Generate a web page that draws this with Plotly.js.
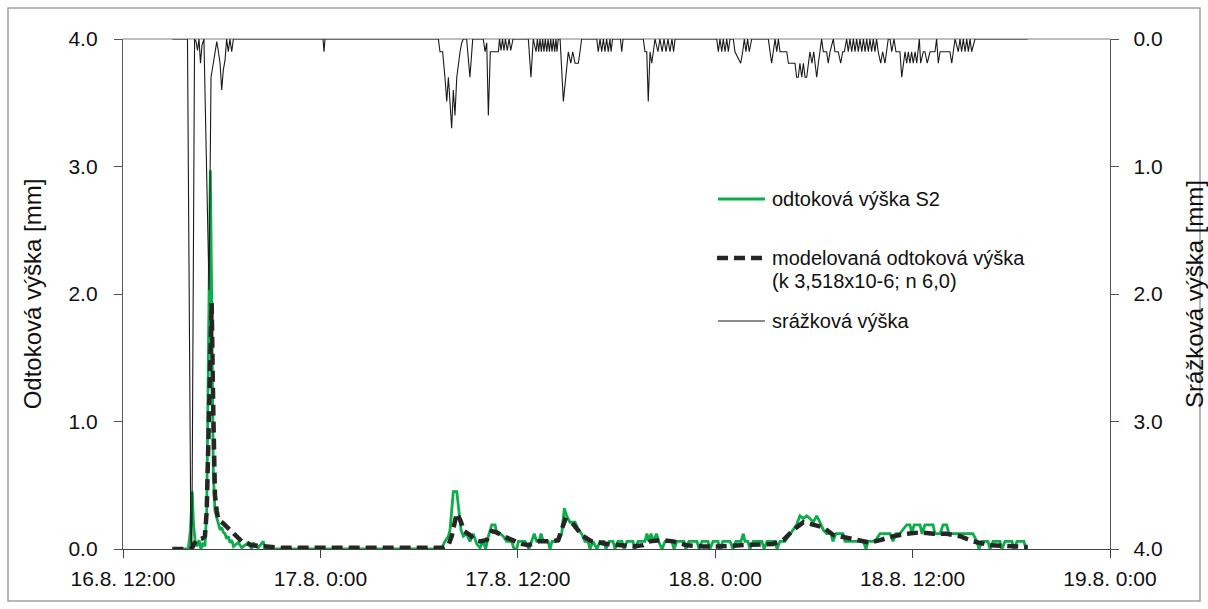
<!DOCTYPE html>
<html><head><meta charset="utf-8">
<script src="https://cdn.plot.ly/plotly-3.0.1.min.js"></script>
<style>html,body{margin:0;padding:0;background:#fff}#chart{width:1208px;height:609px}</style>
</head><body><div id="chart"></div>
<script>
// time axis: hours after 16.8. 12:00
const tickHours = [0, 12, 24, 36, 48, 60];
const tickLabels = ["16.8. 12:00", "17.8. 0:00", "17.8. 12:00", "18.8. 0:00", "18.8. 12:00", "19.8. 0:00"];
const runoffTicks = [0, 1, 2, 3, 4];
const seriesNames = ["odtoková výška S2", "modelovaná odtoková výška", "(k 3,518x10-6; n 6,0)", "srážková výška"];

// observed runoff S2 [hour, mm]
const observedS2 = [[3.0,0],[3.97,0],[4.10,0.15],[4.21,0.45],[4.28,0.2],[4.38,0.07],[4.50,0.02],[4.62,0.07],[4.74,0],[4.86,0.05],[4.98,0.02],
[5.09,0.3],[5.19,1.5],[5.31,2.97],[5.39,1.98],[5.43,1.2],[5.49,0.6],[5.59,0.3],[5.70,0.25],[5.79,0.2],[5.90,0.15],[6.00,0.17],[6.10,0.13],
[6.20,0.12],[6.30,0.08],[6.40,0.1],[6.50,0.05],[6.61,0.07],[6.72,0.02],[6.81,0.03],[7.01,0.05],[7.22,0.01],[7.42,0.03],[7.62,0.05],[7.82,0],
[7.92,0.05],[8.02,0.02],[8.22,0.01],[8.53,0.06],[8.63,0],[8.94,0],[19.35,0],[19.57,0.06],[19.78,0.1],[19.88,0.15],[20.08,0.45],[20.29,0.45],
[20.43,0.28],[20.55,0.15],[20.69,0.1],[20.89,0.12],[21.09,0.06],[21.29,0.12],[21.50,0.04],[21.70,0.01],[21.90,0.06],[22.05,0],[22.21,0.1],
[22.42,0.19],[22.62,0.19],[22.72,0.12],[22.92,0.12],[23.12,0.1],[23.32,0.06],[23.63,0.06],[23.77,0],[23.93,0],[24.04,0.06],[24.44,0.06],
[24.68,0],[24.85,0.06],[25.00,0.12],[25.15,0.06],[25.29,0.06],[25.41,0.12],[25.55,0.06],[25.84,0.06],[25.96,0],[26.08,0.06],[26.46,0.06],
[26.67,0.12],[26.83,0.32],[26.97,0.26],[27.17,0.21],[27.48,0.21],[27.68,0.15],[27.88,0.12],[28.08,0.06],[28.27,0.06],[28.39,0],[28.57,0.06],
[28.81,0],[29.00,0.06],[29.24,0.06],[29.36,0],[29.54,0.06],[29.79,0.06],[29.91,0],[30.09,0.06],[30.33,0.06],[30.46,0],[30.64,0.06],[31.00,0.06],
[31.12,0],[31.31,0.06],[31.73,0.06],[31.85,0.12],[31.98,0.06],[32.10,0.12],[32.22,0.06],[32.44,0.12],[32.55,0.06],[32.77,0],[32.95,0.06],
[33.37,0.06],[33.50,0],[33.68,0.06],[34.10,0.06],[34.22,0],[34.41,0.06],[34.89,0.06],[35.02,0],[35.20,0.06],[35.56,0.06],[35.68,0],[35.87,0.06],
[36.17,0.06],[36.29,0],[36.47,0.06],[36.90,0.06],[37.08,0],[37.26,0.06],[37.57,0.06],[37.71,0.12],[37.81,0.06],[37.99,0.06],[38.11,0],[38.32,0.06],
[38.84,0.06],[38.97,0],[39.15,0.06],[39.64,0.06],[39.76,0],[39.94,0.06],[40.24,0.06],[40.45,0.1],[40.75,0.15],[40.95,0.19],[41.15,0.26],
[41.36,0.24],[41.56,0.26],[41.76,0.24],[41.96,0.21],[42.17,0.26],[42.37,0.21],[42.57,0.15],[42.77,0.12],[43.04,0.12],[43.16,0.06],[43.34,0.12],
[43.77,0.12],[43.89,0.06],[44.19,0.06],[44.50,0.06],[44.80,0.06],[45.00,0.06],[45.17,0],[45.29,0.06],[45.71,0.06],[46.02,0.12],[46.42,0.12],
[46.63,0.12],[46.81,0.06],[46.99,0.12],[47.23,0.12],[47.42,0.15],[47.64,0.19],[47.84,0.19],[47.96,0.12],[48.09,0.19],[48.45,0.19],[48.57,0.12],
[48.75,0.19],[49.24,0.19],[49.36,0.12],[49.67,0.12],[49.85,0.19],[50.07,0.19],[50.21,0.12],[50.46,0.12],[50.76,0.12],[51.00,0.12],[51.25,0.12],
[51.49,0.12],[51.67,0.12],[51.90,0.06],[52.04,0],[52.22,0.06],[52.58,0.06],[52.71,0],[52.89,0.06],[53.31,0.06],[53.43,0],[53.62,0.06],
[54.04,0.06],[54.16,0],[54.35,0.06],[54.77,0.06],[54.89,0],[55.0,0]];

// modelled runoff [hour, mm]
const modelled = [[3.0,0],[4.17,0],[4.32,0.04],[4.48,0.07],[4.78,0.08],[4.98,0.1],[5.09,0.3],[5.19,0.9],[5.29,1.6],[5.39,1.93],[5.49,1.07],
[5.59,0.42],[5.70,0.3],[5.79,0.23],[6.10,0.2],[6.50,0.15],[6.81,0.1],[7.22,0.06],[7.82,0.03],[8.63,0.02],[9.65,0.01],[19.47,0.01],[19.78,0.03],
[19.98,0.1],[20.29,0.28],[20.49,0.23],[20.75,0.14],[21.09,0.11],[21.40,0.07],[21.70,0.06],[22.11,0.07],[22.42,0.14],[22.72,0.13],[23.12,0.1],
[23.63,0.07],[24.24,0.04],[24.64,0.03],[25.25,0.06],[26.06,0.06],[26.46,0.07],[26.87,0.23],[27.28,0.21],[27.58,0.16],[27.98,0.1],[28.49,0.06],
[29.40,0.04],[31.02,0.02],[31.63,0.03],[32.04,0.06],[32.64,0.07],[33.45,0.06],[34.26,0.03],[35.28,0.02],[36.29,0.02],[37.51,0.03],[38.72,0.04],
[39.51,0.04],[40.14,0.07],[40.75,0.15],[41.36,0.21],[41.96,0.19],[42.57,0.17],[43.18,0.11],[43.99,0.09],[44.80,0.07],[45.41,0.05],[46.02,0.07],
[46.83,0.1],[47.64,0.12],[48.45,0.13],[49.26,0.12],[50.07,0.12],[50.88,0.1],[51.69,0.06],[52.71,0.03],[53.72,0.02],[54.73,0.015],[55.0,0.015]];

// precipitation [hour, mm]
const precipitation = [[3.0,0],[3.92,0],[4.16,4.6],[4.35,0],[4.44,0.02],[4.53,0.09],[4.62,0],[4.71,0.19],[4.80,0.05],[4.92,0],[5.23,1.97],
[5.35,0.3],[5.49,0.19],[5.59,0.09],[5.70,0.02],[5.79,0.09],[5.90,0.19],[6.00,0.4],[6.10,0.24],[6.20,0.17],[6.30,0],[6.40,0.1],[6.50,0],
[6.61,0.1],[6.71,0],[12.16,0],[12.22,0.1],[12.28,0],
[19.17,0],[19.27,0.1],[19.43,0.1],[19.57,0.3],[19.68,0.49],[19.78,0.3],[19.88,0.49],[19.98,0.7],[20.08,0.4],[20.18,0.6],[20.29,0.3],
[20.38,0.19],[20.49,0.1],[20.59,0.03],[20.69,0],[20.89,0],[21.09,0.3],[21.26,0],[21.90,0],[22.01,0.1],[22.11,0.03],[22.21,0.6],[22.33,0.1],
[22.82,0.1],[22.89,0],[22.98,0.09],[23.07,0],[23.16,0.09],[23.25,0],[23.36,0.09],[23.47,0],[23.57,0.09],[23.71,0],
[24.64,0],[24.80,0.3],[24.94,0],[25.11,0.1],[25.19,0],[25.27,0.1],[25.35,0],[25.43,0.1],[25.51,0],[25.59,0.1],[25.67,0],[25.76,0.1],[25.84,0],
[25.92,0.1],[26.00,0],[26.08,0.1],[26.16,0],[26.24,0.1],[26.32,0],[26.38,0.1],[26.46,0],[26.57,0],[26.77,0.49],[26.97,0.19],[27.07,0.1],
[27.22,0.19],[27.34,0.1],[27.48,0.19],[27.68,0.19],[27.78,0.1],[27.88,0],[28.80,0],[28.89,0.1],[29.00,0],[29.10,0.1],[29.20,0],[29.30,0.1],
[29.40,0],[29.50,0.1],[29.60,0],[29.67,0.1],[29.76,0],[30.24,0],[30.32,0.1],[30.40,0],
[31.63,0],[31.73,0.1],[31.84,0.1],[31.93,0.49],[32.04,0.1],[32.14,0.19],[32.24,0.1],[32.34,0],[32.52,0.1],[32.64,0],[32.77,0.1],[32.89,0],
[33.01,0.1],[33.13,0],[33.25,0.1],[33.37,0],[33.47,0.1],[33.56,0],
[36.09,0],[36.19,0.1],[36.29,0],[36.40,0.1],[36.49,0],[36.60,0.1],[36.70,0],[36.80,0.1],[36.90,0],[37.10,0],[37.20,0.1],[37.55,0.19],[37.67,0.1],
[37.77,0],[37.87,0.1],[37.97,0],[38.07,0.1],[38.22,0],
[39.23,0],[39.43,0.19],[39.53,0.1],[39.64,0],[39.74,0.1],[39.84,0],[39.94,0.1],[40.35,0.1],[40.45,0.19],[40.85,0.19],[40.95,0.3],[41.05,0.3],
[41.15,0.19],[41.26,0.3],[41.36,0.19],[41.46,0.3],[41.56,0.3],[41.66,0.19],[41.76,0.1],[41.88,0.19],[41.99,0.1],[42.07,0.19],[42.17,0.3],
[42.27,0.19],[42.37,0.1],[42.47,0],[42.57,0.1],[42.77,0.1],[42.87,0.19],[42.98,0.1],[43.18,0],[43.28,0.1],[43.48,0.1],[43.63,0.19],[43.75,0.1],
[43.85,0.1],[43.99,0],[44.09,0.1],[44.19,0],[44.30,0.1],[44.40,0],[44.50,0.1],[44.60,0],[44.70,0.1],[44.80,0],[44.91,0.1],[45.01,0],[45.11,0.1],
[45.21,0],[45.31,0.1],[45.41,0],[45.51,0.1],[45.61,0],[45.71,0.1],[45.81,0],[45.91,0.1],[46.06,0.19],[46.18,0.1],[46.32,0.19],[46.42,0.1],
[46.52,0],[46.63,0],[46.73,0.1],[46.87,0],[46.99,0.1],[47.13,0.1],[47.23,0.1],[47.34,0.3],[47.44,0.19],[47.54,0.1],[47.64,0.19],[47.74,0.1],
[47.84,0.19],[47.94,0.1],[48.04,0.19],[48.15,0.1],[48.25,0.19],[48.41,0],[48.49,0.19],[48.65,0.1],[48.75,0.1],[48.89,0.19],[49.06,0.1],
[49.36,0.1],[49.46,0],[49.56,0.19],[49.67,0.1],[49.97,0.1],[50.27,0.1],[50.38,0.19],[50.48,0.1],[50.58,0],[50.78,0.1],[50.88,0],[50.98,0.1],
[51.08,0],[51.19,0.1],[51.29,0],[51.39,0.1],[51.49,0],[51.59,0.1],[51.79,0],[55.0,0]];

const FONT = "'Liberation Sans', Arial, sans-serif";
const col = (arr, i) => arr.map(p => p[i]);

const traces = [
  {x: col(precipitation,0), y: col(precipitation,1), yaxis: 'y2', type: 'scatter', mode: 'lines',
   line: {color: '#1a1a1a', width: 1.1}, name: seriesNames[3], hoverinfo: 'skip'},
  {x: col(observedS2,0), y: col(observedS2,1), type: 'scatter', mode: 'lines',
   line: {color: '#0aae4a', width: 2.8}, name: seriesNames[0]},
  {x: col(modelled,0), y: col(modelled,1), type: 'scatter', mode: 'lines',
   line: {color: '#262626', width: 4.5, dash: '11px,6px'}, name: seriesNames[1]}
];

// legend placed manually (paper coordinates)
const px = v => (v - 123) / 987;
const py = v => (549 - v) / 510;
const legendRows = [199, 258, 281, 321];

const layout = {
  width: 1208, height: 609,
  margin: {l: 123, r: 98, t: 39, b: 60, pad: 0},
  paper_bgcolor: '#fff', plot_bgcolor: '#fff',
  font: {family: FONT, size: 21, color: '#111'},
  showlegend: false,
  xaxis: {range: [0, 60], tickvals: tickHours, ticktext: tickLabels, ticks: 'outside', ticklen: 8,
          tickcolor: '#444', showline: true, linecolor: '#444', linewidth: 1.2, showgrid: false, zeroline: false,
          tickfont: {size: 21}, ticklabelstandoff: 3},
  yaxis: {range: [0, 4], tickvals: runoffTicks, tickformat: '.1f', ticks: 'outside', ticklen: 8,
          tickcolor: '#555', showline: true, linecolor: '#555', linewidth: 1.2, showgrid: false, zeroline: false,
          ticklabelstandoff: 12,
          title: {text: 'Odtoková výška [mm]', font: {size: 24}, standoff: 20}},
  yaxis2: {overlaying: 'y', side: 'right', range: [4, 0], tickvals: runoffTicks, tickformat: '.1f', ticks: 'outside', ticklen: 8,
          tickcolor: '#555', showline: true, linecolor: '#555', linewidth: 1.2, showgrid: false, zeroline: false,
          ticklabelstandoff: 10,
          title: {text: 'Srážková výška [mm]', font: {size: 24}, standoff: 27}},
  shapes: [
    {type: 'rect', xref: 'paper', yref: 'paper', x0: px(8), x1: px(1200), y0: py(601), y1: py(8),
     line: {color: '#a0a0a0', width: 1.5}, layer: 'below'},
    {type: 'line', xref: 'paper', yref: 'paper', x0: 0, x1: 1, y0: 1, y1: 1,
     line: {color: '#a8a8a8', width: 1.5}, layer: 'below'},
    {type: 'line', xref: 'paper', yref: 'paper', x0: px(718), x1: px(765), y0: py(legendRows[0]), y1: py(legendRows[0]),
     line: {color: '#0aae4a', width: 3}},
    {type: 'line', xref: 'paper', yref: 'paper', x0: px(717), x1: px(765), y0: py(legendRows[1]), y1: py(legendRows[1]),
     line: {color: '#262626', width: 4.5, dash: '11px,6px'}},
    {type: 'line', xref: 'paper', yref: 'paper', x0: px(718), x1: px(765), y0: py(legendRows[3]), y1: py(legendRows[3]),
     line: {color: '#1a1a1a', width: 1.1}}
  ],
  annotations: [0, 1, 2, 3].map(i => ({
    xref: 'paper', yref: 'paper', x: px(770), y: py(legendRows[i]), xanchor: 'left', yanchor: 'middle',
    text: seriesNames[i], showarrow: false, font: {size: 20, color: '#111'}
  }))
};

Plotly.newPlot('chart', traces, layout, {staticPlot: true, displayModeBar: false});
</script></body></html>
